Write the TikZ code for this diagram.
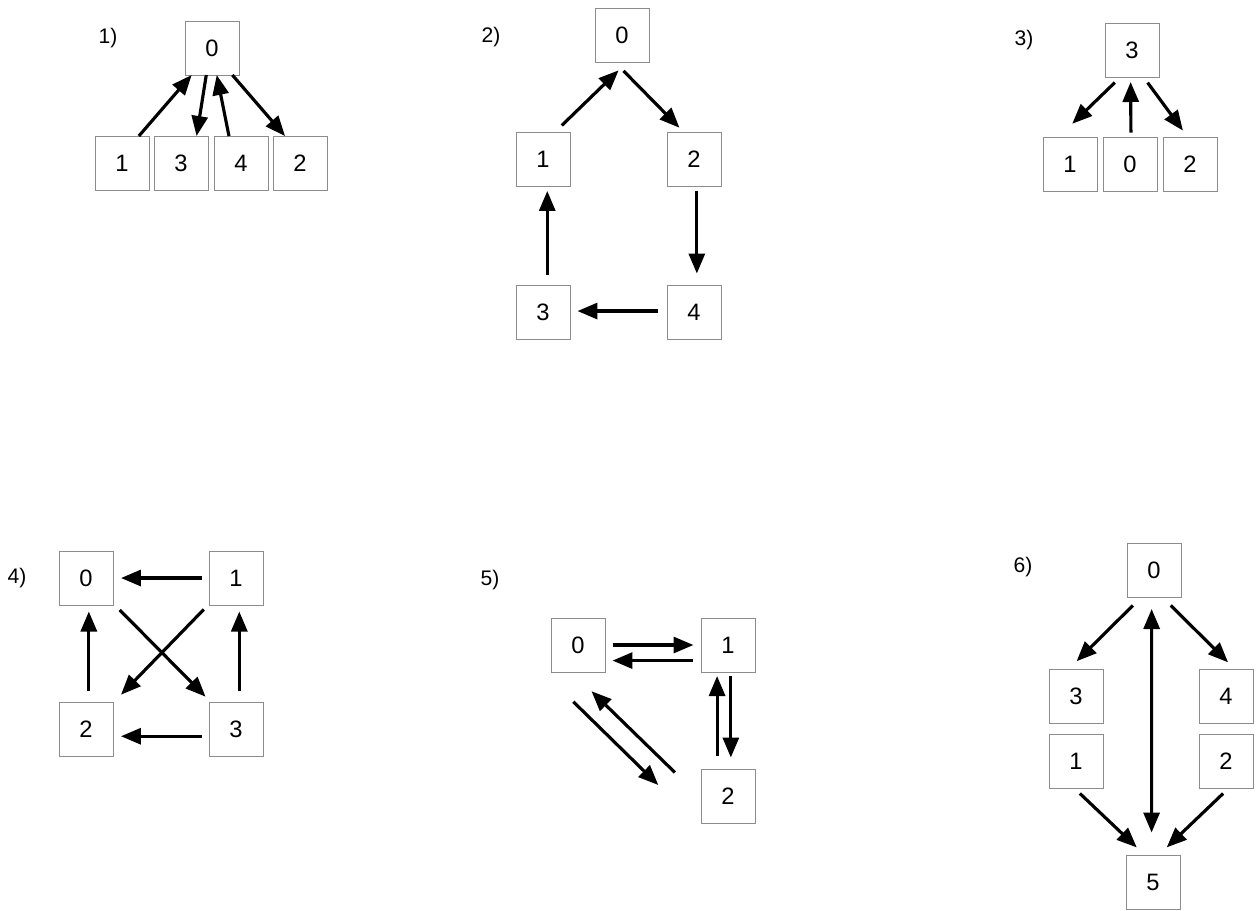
\documentclass[tikz,border=0pt]{standalone}
\usepackage{fontspec}
\setmainfont{Liberation Sans}
\usetikzlibrary{arrows.meta}

\begin{document}
\begin{tikzpicture}[x=0.02cm, y=-0.02cm,
  >={Triangle[length=0.40cm,width=0.32cm]},
  box/.style={draw=black!45, line width=0.5pt, fill=white, minimum size=1.08cm,
    inner sep=0pt, outer sep=0pt, font=\fontsize{13.5}{15}\selectfont},
  tag/.style={font=\fontsize{12}{14}\selectfont},
  link/.style={->, line width=1.8pt}]

\useasboundingbox (0,0) rectangle (1260,910);

% 1)
\node[tag] (t1) at (108,38) {1)};
\node[box] (a0) at (212,48) {0};
\node[box] (a1) at (122,163) {1};
\node[box] (a3) at (181,163) {3};
\node[box] (a4) at (241,163) {4};
\node[box] (a2) at (300,163) {2};
\draw[link] (a1.58) -- (a0.233);
\draw[link] (a0.258) -- (a3.60);
\draw[link] (a4.114) -- (a0.280);
\draw[link] (a0.307) -- (a2.119);

% 2)
\node[tag] (t2) at (491,37) {2)};
\node[box] (b0) at (622,35) {0};
\node[box] (b1) at (543,159) {1};
\node[box] (b2) at (694,159) {2};
\node[box] (b3) at (543,312) {3};
\node[box] (b4) at (694,312) {4};
\draw[link, shorten <=0.19cm, shorten >=0.24cm] (b1.66) -- (b0.281);
\draw[link, shorten <=0.25cm, shorten >=0.12cm] (b0.255) -- (b2.111);
\draw[link, shorten <=0.10cm, shorten >=0.23cm] (b2.276) -- (b4.84);
\draw[link, shorten <=0.21cm, shorten >=0.10cm] (b3.81) -- (b1.279);
\draw[link, shorten <=0.18cm, shorten >=0.15cm] (b4.178) -- (b3.2);

% 3)
\node[tag] (t3) at (1024,40) {3)};
\node[box] (c3) at (1132,50) {3};
\node[box] (c1) at (1070,164) {1};
\node[box] (c0) at (1130,164) {0};
\node[box] (c2) at (1190,164) {2};
\draw[link, shorten <=0.16cm, shorten >=0.38cm] (c3.247) -- (c1.113);
\draw[link, shorten <=0.09cm, shorten >=0.10cm] (c0.88) -- (c3.267);
\draw[link, shorten <=0.14cm, shorten >=0.16cm] (c3.293) -- (c2.95);

% 4)
\node[tag] (t4) at (17,578) {4)};
\node[box] (d0) at (86,578) {0};
\node[box] (d1) at (236,578) {1};
\node[box] (d2) at (86,729) {2};
\node[box] (d3) at (236,729) {3};
\draw[link, shorten <=0.15cm, shorten >=0.16cm] (d1.180) -- (d0.0);
\draw[link, shorten <=0.22cm, shorten >=0.13cm] (d2.84) -- (d0.276);
\draw[link, shorten <=0.22cm, shorten >=0.13cm] (d3.83) -- (d1.277);
\draw[link, shorten <=0.19cm, shorten >=0.15cm] (d0.317) -- (d3.133);
\draw[link, shorten <=0.15cm, shorten >=0.23cm] (d1.224) -- (d2.44);
\draw[link, shorten <=0.15cm, shorten >=0.16cm] (d3.195) -- (d2.345);

% 5)
\node[tag] (t5) at (490,580) {5)};
\node[box] (e0) at (578,645) {0};
\node[box] (e1) at (728,645) {1};
\node[box] (e2) at (728,796) {2};
\draw[link, shorten <=0.15cm, shorten >=0.15cm] (e0.0) -- (e1.180);
\draw[link, shorten <=0.17cm, shorten >=0.15cm] (e1.210) -- (e0.330);
\draw[link, shorten <=0.27cm, shorten >=0.08cm] (e2.112) -- (e1.248);
\draw[link, shorten <=0.08cm, shorten >=0.23cm] (e1.276) -- (e2.84);
\draw[link] ([shift={(-4.7,29.7)}]e0.south) -- ([shift={(-42.7,-11)}]e2.west);
\draw[link, shorten <=0.73cm, shorten >=0.55cm] (e2.184) -- (e0.257);

% 6)
\node[tag] (t6) at (1023,567) {6)};
\node[box] (f0) at (1154,570) {0};
\node[box] (f3) at (1076,696) {3};
\node[box] (f4) at (1226,696) {4};
\node[box] (f1) at (1076,761) {1};
\node[box] (f2) at (1226,761) {2};
\node[box] (f5) at (1153,882) {5};
\draw[link, shorten <=0.24cm, shorten >=0.22cm] (f0.245) -- (f3.105);
\draw[link, shorten <=0.24cm, shorten >=0.19cm] (f0.287) -- (f4.72);
\draw[link, <->, shorten <=0.24cm, shorten >=0.45cm] (f0.265) -- (f5.93);
\draw[link, shorten <=0.16cm, shorten >=0.22cm] (f1.266) -- (f5.107);
\draw[link, shorten <=0.16cm, shorten >=0.22cm] (f2.276) -- (f5.78);

\end{tikzpicture}
\end{document}
